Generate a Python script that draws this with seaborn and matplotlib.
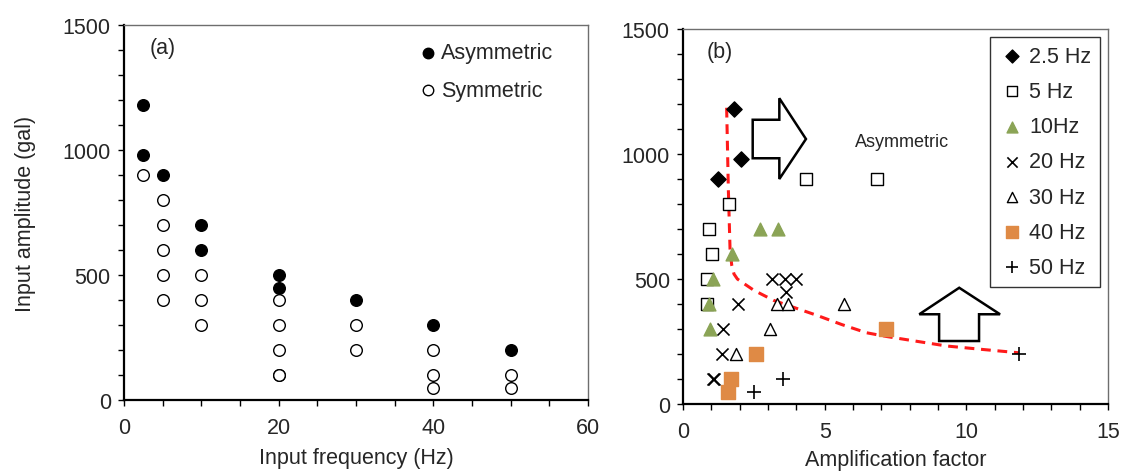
import numpy as np
import pandas as pd
import matplotlib
matplotlib.use("Agg")
import matplotlib.pyplot as plt
from matplotlib.patches import Polygon
from matplotlib.ticker import MultipleLocator
import seaborn as sns

# ---- (a) input amplitude vs. input frequency ----
asym_freq = [2.5, 2.5, 5, 10, 10, 20, 20, 30, 40, 50]
asym_amp = [1180, 980, 900, 700, 600, 500, 450, 400, 300, 200]
sym_freq = [2.5, 5, 5, 5, 5, 5, 10, 10, 10, 20, 20, 20, 20, 20, 30, 30, 40, 40, 40, 50, 50]
sym_amp = [900, 800, 700, 600, 500, 400, 500, 400, 300, 400, 300, 200, 100, 100, 300, 200,
           200, 100, 50, 100, 50]

# ---- (b) input amplitude vs. amplification factor, per input frequency ----
amp_25_x = [1.81, 2.04, 1.22]
amp_25_y = [1180, 980, 900]
amp_5_x = [4.33, 6.84, 1.63, 0.93, 1.02, 0.86, 0.86]
amp_5_y = [900, 900, 800, 700, 600, 500, 400]
amp_10_x = [2.72, 3.34, 1.72, 1.07, 0.92, 0.95]
amp_10_y = [700, 700, 600, 500, 400, 300]
amp_20_x = [3.13, 3.60, 3.99, 3.64, 1.95, 1.42, 1.39, 1.05, 1.09]
amp_20_y = [500, 500, 500, 450, 400, 300, 200, 100, 100]
amp_30_x = [3.31, 3.72, 5.68, 3.07, 1.86]
amp_30_y = [400, 400, 400, 300, 200]
amp_40_x = [7.15, 2.57, 1.68, 1.60]
amp_40_y = [300, 200, 100, 50]
amp_50_x = [11.85, 3.52, 2.51]
amp_50_y = [200, 100, 50]

# boundary between symmetric and asymmetric response
boundary_x = [1.54, 1.56, 1.58, 1.60, 1.63, 1.66, 1.72, 1.80, 1.92, 2.07, 2.5, 3.19, 4.0,
              4.72, 5.6, 6.48, 7.19, 8.3, 9.31, 10.6, 11.85]
boundary_y = [1185, 1080, 970, 860, 740, 620, 555, 520, 500, 488, 455, 415, 383, 355, 318,
              285, 270, 250, 232, 218, 205]

# block arrows pointing into the asymmetric region
arrow_right = [(2.46, 1137), (3.40, 1137), (3.40, 1223), (4.34, 1060), (3.40, 900),
               (3.40, 983), (2.46, 983)]
arrow_up = [(9.04, 252), (9.04, 359), (8.34, 359), (9.75, 465), (11.19, 359),
            (10.45, 359), (10.45, 252)]

GREEN = "#8ba456"
ORANGE = "#df8a45"

sns.set_theme(style="ticks")
plt.rcParams["font.family"] = ["Liberation Sans", "DejaVu Sans"]
FS = 15.5

fig = plt.figure(figsize=(11.23, 4.77), dpi=100)
ax_a = fig.add_axes([0.1104, 0.1593, 0.4132, 0.7862])
ax_b = fig.add_axes([0.6082, 0.1509, 0.3784, 0.7862])


def style_axes(ax, xmax, xminor):
    ax.set_ylim(0, 1500)
    ax.set_xlim(0, xmax)
    ax.yaxis.set_major_locator(MultipleLocator(500))
    ax.yaxis.set_minor_locator(MultipleLocator(100))
    ax.xaxis.set_minor_locator(MultipleLocator(xminor))
    ax.tick_params(which="both", direction="out", length=4.5, width=1.0,
                   color="black", labelsize=FS)
    ax.tick_params(axis="x", pad=8)
    ax.tick_params(axis="y", pad=5)
    for side in ("left", "bottom"):
        ax.spines[side].set_color("black")
        ax.spines[side].set_linewidth(1.6)
    for side in ("top", "right"):
        ax.spines[side].set_visible(True)
        ax.spines[side].set_color("#6e6e6e")
        ax.spines[side].set_linewidth(1.0)


# ---- panel (a) ----
sns.scatterplot(x=asym_freq, y=asym_amp, ax=ax_a, marker="o", s=70, color="black",
                edgecolor="black", linewidth=1.0, label="Asymmetric", zorder=3)
sns.scatterplot(x=sym_freq, y=sym_amp, ax=ax_a, marker="o", s=70, color="white",
                edgecolor="black", linewidth=1.0, label="Symmetric", zorder=3)
style_axes(ax_a, 60, 5)
ax_a.xaxis.set_major_locator(MultipleLocator(20))
ax_a.set_xlabel("Input frequency (Hz)", fontsize=FS, labelpad=6)
ax_a.set_ylabel("Input amplitude (gal)", fontsize=FS, labelpad=19)
ax_a.text(0.055, 0.94, "(a)", transform=ax_a.transAxes, fontsize=FS, va="center")
ax_a.legend(loc="upper left", bbox_to_anchor=(0.632, 0.965), frameon=False,
            fontsize=FS, handlelength=0.6, handletextpad=0.3, labelspacing=0.75,
            borderaxespad=0, borderpad=0.2, markerscale=0.9)

# ---- panel (b) ----
ax_b.plot(boundary_x, boundary_y, color="#ff1a1a", linestyle=(0, (3.2, 2.2)),
          linewidth=2.2, zorder=2)
series_b = [
    (amp_25_x, amp_25_y, "D", 60, "black", "black", "2.5 Hz"),
    (amp_5_x, amp_5_y, "s", 66, "white", "black", "5 Hz"),
    (amp_10_x, amp_10_y, "^", 85, GREEN, GREEN, "10Hz"),
    (amp_20_x, amp_20_y, "x", 75, "black", "black", "20 Hz"),
    (amp_30_x, amp_30_y, "^", 75, "white", "black", "30 Hz"),
    (amp_40_x, amp_40_y, "s", 90, ORANGE, ORANGE, "40 Hz"),
    (amp_50_x, amp_50_y, "+", 95, "black", "black", "50 Hz"),
]
for xs, ys, mk, size, face, edge, name in series_b:
    if mk in ("x", "+"):
        sns.scatterplot(x=xs, y=ys, ax=ax_b, marker=mk, s=size, color=face,
                        linewidth=1.2, label=name, zorder=3)
    else:
        sns.scatterplot(x=xs, y=ys, ax=ax_b, marker=mk, s=size, color=face,
                        edgecolor=edge, linewidth=1.0, label=name, zorder=3)

for verts in (arrow_right, arrow_up):
    ax_b.add_patch(Polygon(verts, closed=True, facecolor="white", edgecolor="black",
                           linewidth=1.8, zorder=4))
ax_b.text(7.72, 1050, "Asymmetric", fontsize=13, ha="center", va="center")

style_axes(ax_b, 15, 1)
ax_b.xaxis.set_major_locator(MultipleLocator(5))
ax_b.set_xlabel("Amplification factor", fontsize=FS, labelpad=5)
ax_b.text(0.055, 0.94, "(b)", transform=ax_b.transAxes, fontsize=FS, va="center")
leg = ax_b.legend(loc="upper right", bbox_to_anchor=(0.981, 0.978), frameon=True,
                  fancybox=False, fontsize=FS, handlelength=1.2, handletextpad=0.2,
                  labelspacing=0.66, borderaxespad=0, borderpad=0.4, markerscale=0.85)
leg.get_frame().set_edgecolor("black")
leg.get_frame().set_linewidth(1.0)

fig.savefig("out.png", dpi=100)
